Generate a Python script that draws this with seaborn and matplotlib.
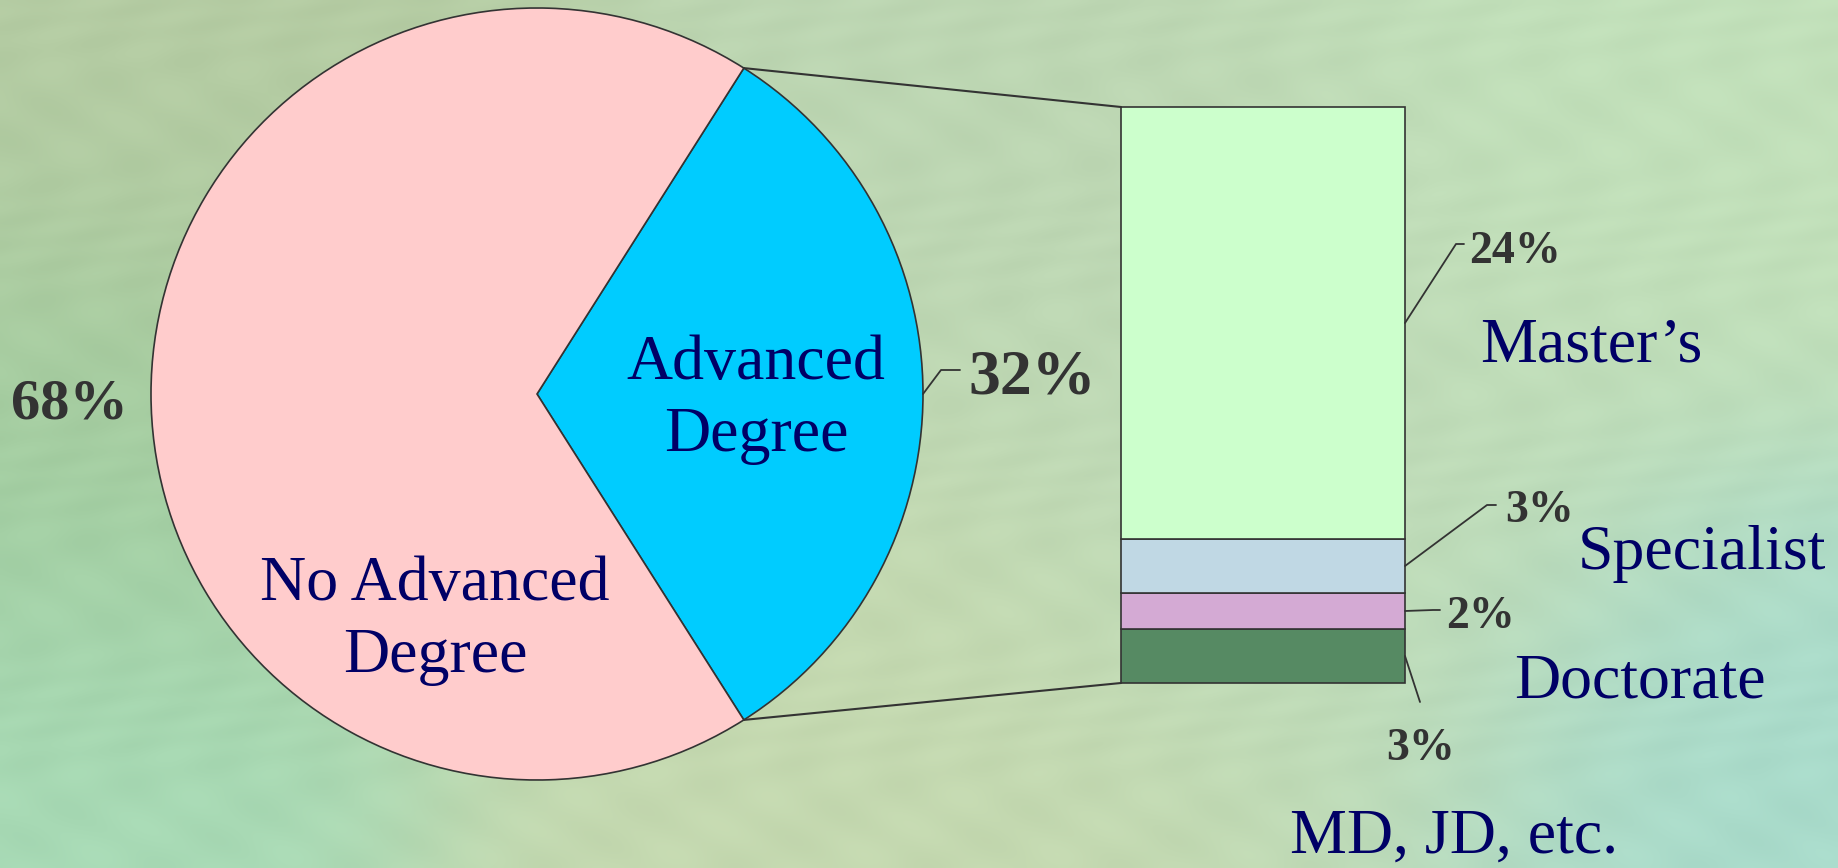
import numpy as np
import matplotlib.pyplot as plt
import seaborn as sns
from matplotlib.patches import ConnectionPatch
from matplotlib.lines import Line2D

sns.set_theme(style="white")
plt.rcParams['font.family'] = ['Liberation Serif', 'DejaVu Serif']

# data
pie_labels = ["Advanced\nDegree", "No Advanced\nDegree"]
pie_values = [32, 68]
pie_colors = ["#00ccff", "#ffcccc"]

bar_labels = ["MD, JD, etc.", "Doctorate", "Specialist", "Master\u2019s"]
bar_values = [3, 2, 3, 24]
bar_colors = ["#568a63", "#d4aad4", "#c0d8e4", "#ccffcc"]

W, H = 1838, 868
NAVY = "#000066"
GREY = "#333333"
EDGE = "#333333"

fig = plt.figure(figsize=(W / 100, H / 100), dpi=100)


def fx(x, y):
    # pixel from top-left -> figure fraction
    return x / W, 1 - y / H


# background: soft green gradient
bg = fig.add_axes([0, 0, 1, 1], zorder=0)
yy, xx = np.mgrid[0:1:217j, 0:1:460j]
blobs = [  # (x, y, spread, rgb)
    (0.10, 0.10, 0.25, (0.71, 0.80, 0.64)),
    (0.05, 0.55, 0.20, (0.63, 0.80, 0.62)),
    (0.05, 0.90, 0.20, (0.66, 0.86, 0.72)),
    (0.45, 0.95, 0.25, (0.77, 0.85, 0.69)),
    (0.55, 0.10, 0.25, (0.74, 0.84, 0.70)),
    (0.90, 0.10, 0.25, (0.76, 0.88, 0.73)),
    (0.95, 0.85, 0.18, (0.66, 0.86, 0.80)),
    (0.75, 0.55, 0.25, (0.75, 0.86, 0.72)),
]
acc = np.zeros(xx.shape + (3,))
wsum = np.zeros(xx.shape)
for bx, by, s, c in blobs:
    w = np.exp(-(((xx - bx) * 2.1) ** 2 + (yy - by) ** 2) / (2 * s ** 2))
    acc += w[..., None] * np.array(c)
    wsum += w
img = acc / wsum[..., None]
ripple = 0.012 * np.sin(90 * xx + 60 * yy + 4 * np.sin(23 * yy)) * np.sin(70 * yy - 30 * xx)
img = np.clip(img + ripple[..., None], 0, 1)
bg.imshow(img, aspect="auto", extent=(0, 1, 0, 1), interpolation="bicubic")
bg.axis("off")

# pie
cx, cy, r = 537, 394, 386
axp = fig.add_axes([(cx - r) / W, 1 - (cy + r) / H, 2 * r / W, 2 * r / H], zorder=2)
start = -pie_values[0] / sum(pie_values) * 180
wedges, _ = axp.pie(pie_values, colors=pie_colors, startangle=start,
                    wedgeprops=dict(edgecolor=EDGE, linewidth=1.2))
for w in wedges:
    w.set_clip_on(False)
axp.set_xlim(-1, 1)
axp.set_ylim(-1, 1)
axp.axis("off")

# stacked bar
total = sum(bar_values)
axb = fig.add_axes([1121 / W, 1 - 683 / H, 284 / W, 576 / H], zorder=2)
bottoms = np.concatenate([[0], np.cumsum(bar_values)[:-1]])
bars = axb.bar(np.zeros(len(bar_values)), bar_values, bottom=bottoms, width=1,
               color=bar_colors, edgecolor=EDGE, linewidth=1.2)
for b in bars:
    b.set_clip_on(False)
axb.set_xlim(-0.5, 0.5)
axb.set_ylim(0, total)
axb.axis("off")

# connector lines pie -> bar
th = np.deg2rad(-start)
for sgn, yb in [(1, total), (-1, 0)]:
    con = ConnectionPatch(xyA=(np.cos(th), sgn * np.sin(th)), coordsA=axp.transData,
                          xyB=(-0.5, yb), coordsB=axb.transData,
                          color=EDGE, lw=1.5, zorder=3)
    fig.add_artist(con)


def leader(ax, xy, pts):
    x0, y0 = fig.transFigure.inverted().transform(ax.transData.transform(xy))
    xs = [x0] + [p[0] / W for p in pts]
    ys = [y0] + [1 - p[1] / H for p in pts]
    fig.add_artist(Line2D(xs, ys, color=EDGE, lw=1.3, zorder=3))


# pie labels
adv_lines = pie_labels[0].split("\n")
fig.text(*fx(756, 379), adv_lines[0], ha="center", va="baseline", fontsize=46, color=NAVY, zorder=4)
fig.text(*fx(756, 451), adv_lines[1], ha="center", va="baseline", fontsize=46, color=NAVY, zorder=4)
no_lines = pie_labels[1].split("\n")
fig.text(*fx(435, 600), no_lines[0], ha="center", va="baseline", fontsize=46, color=NAVY, zorder=4)
fig.text(*fx(435, 672), no_lines[1], ha="center", va="baseline", fontsize=46, color=NAVY, zorder=4)

fig.text(*fx(11, 418), f"{pie_values[1]}%", ha="left", va="baseline",
         fontsize=42, fontweight="bold", color=GREY)
fig.text(*fx(968, 393), f"{pie_values[0]}%", ha="left", va="baseline",
         fontsize=46, fontweight="bold", color=GREY)
leader(axp, (1, 0), [(941, 370), (960, 370)])

# bar labels
mids = bottoms + np.array(bar_values) / 2
pct_pos = [(1386, 760), (1446, 628), (1505, 522), (1469, 263)]
name_pos = [(1290, 853), (1514, 697), (1578, 569), (1480, 362)]
leads = [[(1420, 702)],
         [(1433, 610), (1440, 610)],
         [(1487, 505), (1496, 505)],
         [(1456, 244), (1464, 244)]]
for i in range(len(bar_values)):
    fig.text(*fx(*pct_pos[i]), f"{bar_values[i]}%", ha="left", va="baseline",
             fontsize=33, fontweight="bold", color=GREY, zorder=4)
    fig.text(*fx(*name_pos[i]), bar_labels[i], ha="left", va="baseline",
             fontsize=46, color=NAVY, zorder=4)
    leader(axb, (0.5, mids[i]), leads[i])

fig.savefig("out.png", dpi=100)
